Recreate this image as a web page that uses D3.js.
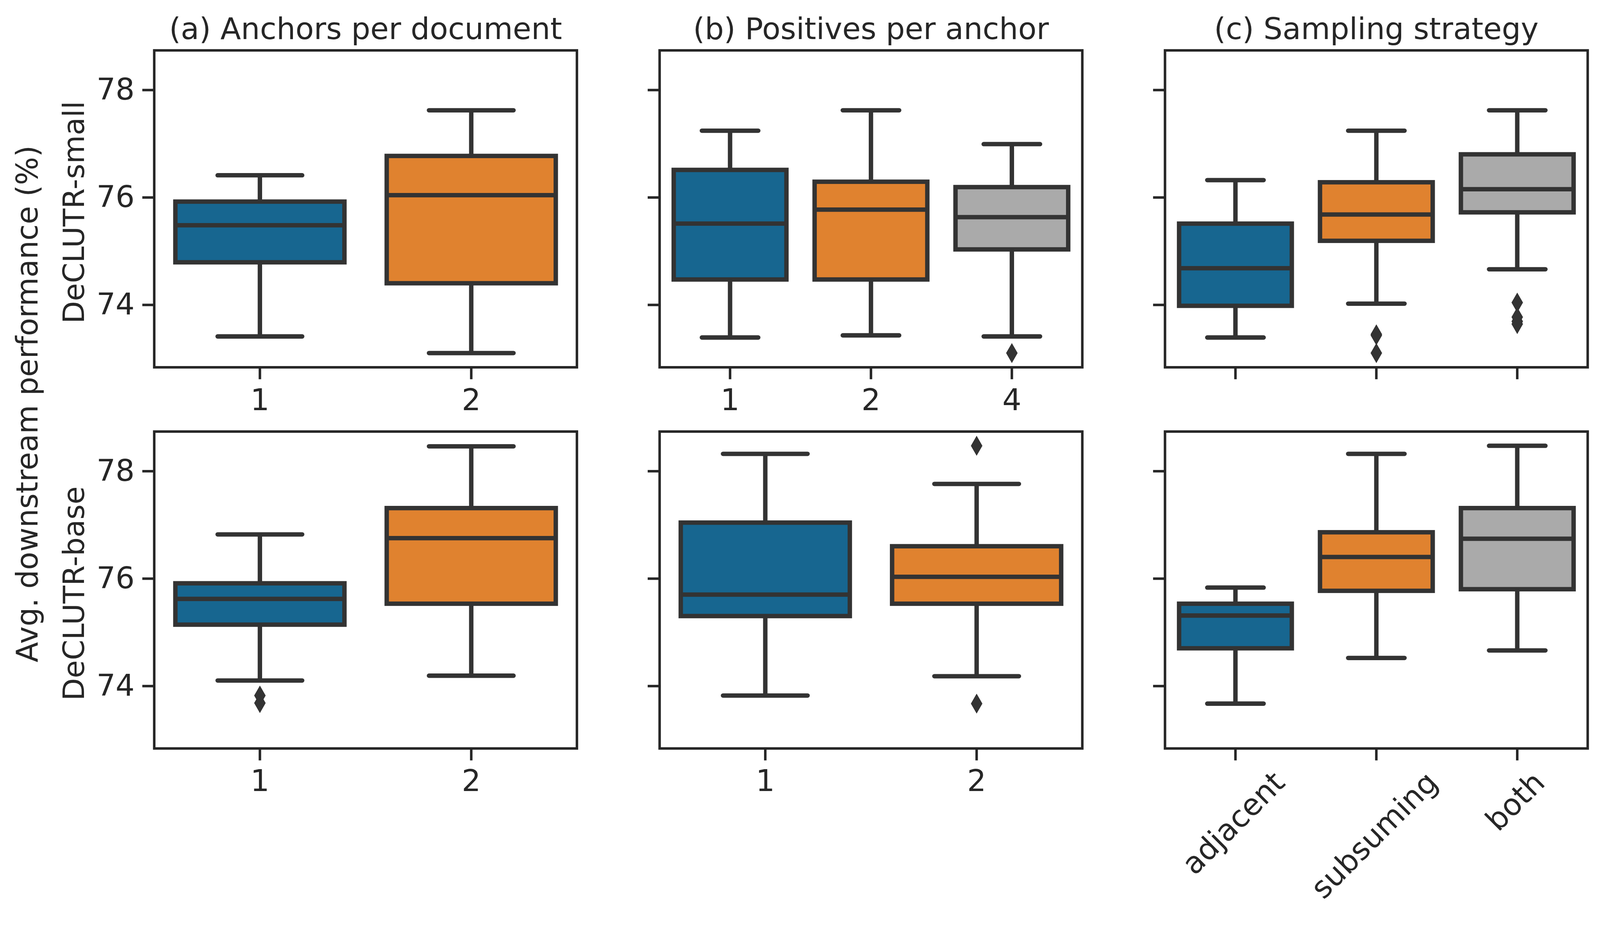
<!DOCTYPE html>
<html>
<head>
<meta charset="utf-8">
<script src="https://cdn.jsdelivr.net/npm/d3@7"></script>
<style>
  html, body { margin: 0; padding: 0; background: #fff; overflow: hidden; }
  svg { display: block; width: 100vw; height: 100vh; }
  text { font-family: "DejaVu Sans", sans-serif; fill: #262626; }
</style>
</head>
<body>
<svg id="fig" viewBox="0 0 4160 2391" preserveAspectRatio="xMidYMin meet"></svg>
<script>
// ---- data ----
// each stat row: [lower whisker, Q1, median, Q3, upper whisker]
const panelTitles = ["(a) Anchors per document", "(b) Positives per anchor", "(c) Sampling strategy"]
const rowLabels = ["DeCLUTR-small", "DeCLUTR-base"]
const yTicks = [74, 76, 78]

const anchorCats = ["1", "2"]
const positiveCatsSmall = ["1", "2", "4"]
const positiveCatsBase = ["1", "2"]
const strategyCats = ["adjacent", "subsuming", "both"]

const smallAnchorStats = [[73.41, 74.79, 75.48, 75.92, 76.41], [73.10, 74.40, 76.04, 76.77, 77.62]]
const smallAnchorFliers = [[], []]
const smallPositiveStats = [[73.39, 74.47, 75.51, 76.51, 77.24], [73.43, 74.47, 75.77, 76.29, 77.62], [73.41, 75.03, 75.63, 76.19, 76.99]]
const smallPositiveFliers = [[], [], [73.10]]
const smallStrategyStats = [[73.39, 73.98, 74.68, 75.51, 76.32], [74.02, 75.19, 75.68, 76.28, 77.24], [74.66, 75.72, 76.15, 76.80, 77.62]]
const smallStrategyFliers = [[], [73.45, 73.43, 73.10], [74.04, 73.77, 73.69, 73.64]]

const baseAnchorStats = [[74.10, 75.14, 75.62, 75.91, 76.82], [74.19, 75.53, 76.75, 77.31, 78.46]]
const baseAnchorFliers = [[73.82, 73.68], []]
const basePositiveStats = [[73.82, 75.30, 75.70, 77.04, 78.32], [74.18, 75.53, 76.03, 76.60, 77.76]]
const basePositiveFliers = [[], [78.47, 73.67]]
const baseStrategyStats = [[73.67, 74.70, 75.31, 75.53, 75.83], [74.52, 75.77, 76.40, 76.86, 78.32], [74.66, 75.80, 76.74, 77.31, 78.47]]
const baseStrategyFliers = [[], [], []]

const boxColors = ["#176690", "#e0822f", "#aaaaaa"]

// ---- layout ----
const colLeft = [401, 1715, 3029]
const rowTop = [131, 1122]
const axW = 1099, axH = 824
const yDomain = [72.835, 78.735]
const lineCol = "#333333", spineCol = "#262626"
const fontSize = 78

const svg = d3.select("#fig")

const panels = [
  {r: 0, c: 0, cats: anchorCats, stats: smallAnchorStats, fliers: smallAnchorFliers},
  {r: 0, c: 1, cats: positiveCatsSmall, stats: smallPositiveStats, fliers: smallPositiveFliers},
  {r: 0, c: 2, cats: strategyCats, stats: smallStrategyStats, fliers: smallStrategyFliers},
  {r: 1, c: 0, cats: anchorCats, stats: baseAnchorStats, fliers: baseAnchorFliers},
  {r: 1, c: 1, cats: positiveCatsBase, stats: basePositiveStats, fliers: basePositiveFliers},
  {r: 1, c: 2, cats: strategyCats, stats: baseStrategyStats, fliers: baseStrategyFliers}
]

const diamond = "M0,-26 L15,0 L0,26 L-15,0 Z"

panels.forEach(function (p) {
  let x0 = colLeft[p.c], y0 = rowTop[p.r]
  let xScale = d3.scaleBand().domain(p.cats).range([0, axW])
  let yScale = d3.scaleLinear().domain(yDomain).range([axH, 0])
  let bw = xScale.bandwidth()
  let boxW = bw * 0.8
  let g = svg.append("g").attr("transform", `translate(${x0},${y0})`)

  // boxes
  p.cats.forEach(function (cat, i) {
    let s = p.stats[i]
    let cx = xScale(cat) + bw / 2
    let bg = g.append("g")
    // whiskers
    bg.append("line").attr("x1", cx).attr("x2", cx)
      .attr("y1", yScale(s[3])).attr("y2", yScale(s[4]))
      .attr("stroke", lineCol).attr("stroke-width", 11.5)
    bg.append("line").attr("x1", cx).attr("x2", cx)
      .attr("y1", yScale(s[1])).attr("y2", yScale(s[0]))
      .attr("stroke", lineCol).attr("stroke-width", 11.5)
    // caps
    ;[s[0], s[4]].forEach(function (v) {
      bg.append("line").attr("x1", cx - boxW / 4).attr("x2", cx + boxW / 4)
        .attr("y1", yScale(v)).attr("y2", yScale(v))
        .attr("stroke", lineCol).attr("stroke-width", 11.5)
        .attr("stroke-linecap", "round")
    })
    // box
    bg.append("rect").attr("x", cx - boxW / 2).attr("width", boxW)
      .attr("y", yScale(s[3])).attr("height", yScale(s[1]) - yScale(s[3]))
      .attr("fill", boxColors[i]).attr("stroke", lineCol).attr("stroke-width", 11.5)
    // median
    bg.append("line").attr("x1", cx - boxW / 2).attr("x2", cx + boxW / 2)
      .attr("y1", yScale(s[2])).attr("y2", yScale(s[2]))
      .attr("stroke", lineCol).attr("stroke-width", 11.5)
    // fliers
    bg.selectAll(".flier").data(p.fliers[i]).enter()
      .append("path").attr("class", "flier")
      .attr("d", diamond)
      .attr("transform", d => `translate(${cx},${yScale(d)})`)
      .attr("fill", lineCol)
  })

  // frame
  g.append("rect").attr("width", axW).attr("height", axH)
    .attr("fill", "none").attr("stroke", spineCol).attr("stroke-width", 6.5)

  // y axis
  let yAxis = d3.axisLeft(yScale).tickValues(yTicks).tickSize(31).tickPadding(20)
    .tickFormat(p.c === 0 ? d3.format("d") : "")
  let ya = g.append("g").call(yAxis)
  ya.select(".domain").remove()
  ya.selectAll(".tick line").attr("stroke", spineCol).attr("stroke-width", 6.5)
  ya.selectAll(".tick text").attr("font-size", fontSize).attr("fill", spineCol)
    .attr("font-family", "DejaVu Sans")

  // x axis
  let showX = !(p.r === 0 && p.c === 2)
  let xAxis = d3.axisBottom(xScale).tickSize(31).tickPadding(24)
    .tickFormat(showX && p.c !== 2 ? (d => d) : "")
  let xa = g.append("g").attr("transform", `translate(0,${axH})`).call(xAxis)
  xa.select(".domain").remove()
  xa.selectAll(".tick line").attr("stroke", spineCol).attr("stroke-width", 6.5)
  xa.selectAll(".tick text").attr("font-size", fontSize).attr("fill", spineCol)
    .attr("font-family", "DejaVu Sans").attr("dy", "0.72em")

  // rotated strategy labels on the bottom row
  if (p.r === 1 && p.c === 2) {
    p.cats.forEach(function (cat) {
      let cx = xScale(cat) + bw / 2
      let t = g.append("text").attr("font-size", fontSize)
        .attr("text-anchor", "middle").attr("dy", "0.35em")
        .attr("transform", `translate(${cx},0) rotate(-45)`)
        .text(cat)
      let len = t.node().getComputedTextLength()
      let h = fontSize * 1.164
      let half = (len + h) * Math.SQRT1_2 / 2
      t.attr("transform", `translate(${cx - 6},${axH + 42 + half}) rotate(-45)`)
    })
  }

  // titles
  if (p.r === 0) {
    g.append("text").attr("x", axW / 2).attr("y", -29)
      .attr("text-anchor", "middle").attr("font-size", fontSize)
      .text(panelTitles[p.c])
  }

  // row labels
  if (p.c === 0) {
    g.append("text").attr("transform", `translate(${218 - x0},${axH / 2 + 9}) rotate(-90)`)
      .attr("text-anchor", "middle").attr("font-size", 76)
      .text(rowLabels[p.r])
  }
})

svg.append("text").attr("transform", "translate(98,1050) rotate(-90)")
  .attr("text-anchor", "middle").attr("font-size", 77)
  .text("Avg. downstream performance (%)")
</script>
</body>
</html>
